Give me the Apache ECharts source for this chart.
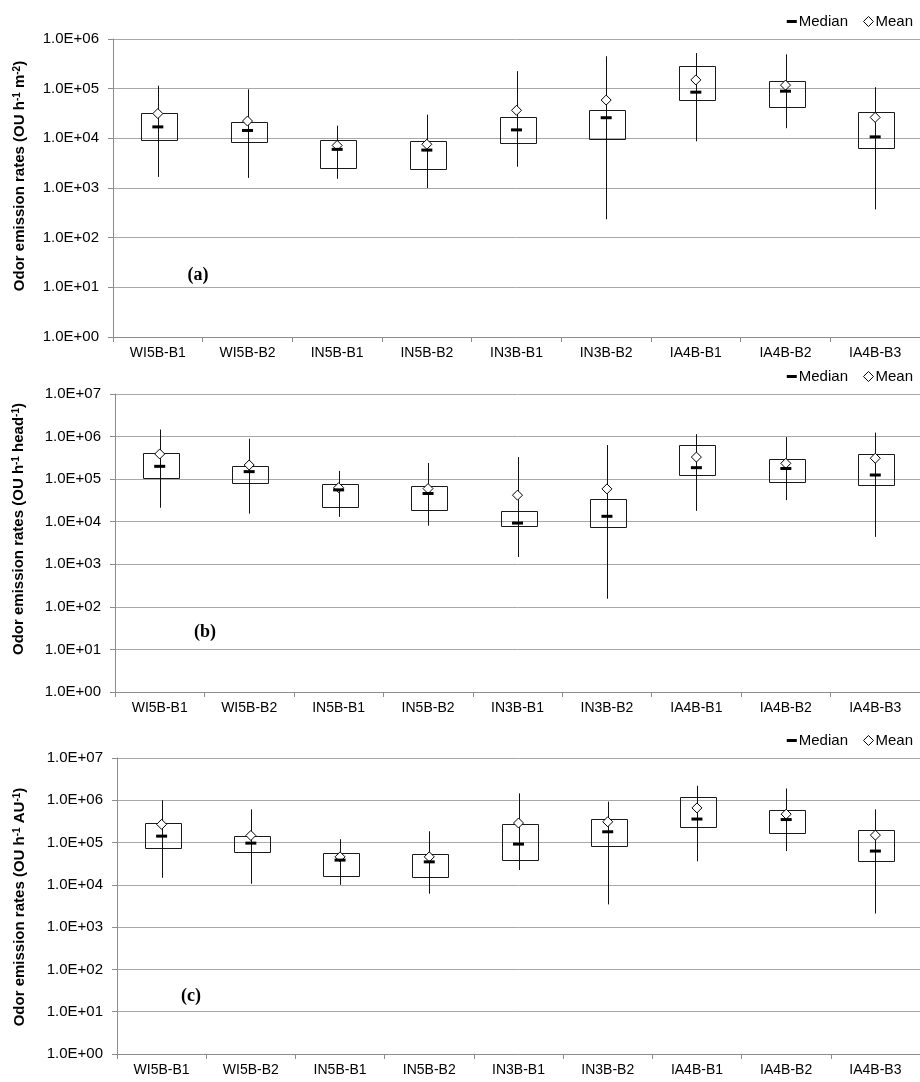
<!DOCTYPE html>
<html>
<head>
<meta charset="utf-8">
<script src="https://cdn.jsdelivr.net/npm/echarts@6/dist/echarts.min.js"></script>
<style>
html,body{margin:0;padding:0;background:#fff;}
#chart{width:920px;height:1082px;}
</style>
</head>
<body>
<div id="chart"></div>
<script>
const categories = ['WI5B-B1','WI5B-B2','IN5B-B1','IN5B-B2','IN3B-B1','IN3B-B2','IA4B-B1','IA4B-B2','IA4B-B3'];

// Panel (a): OU h-1 m-2
const aMax    = [1.15e5, 9.7e4, 1.8e4, 3.0e4, 2.25e5, 4.5e5, 5.2e5, 4.9e5, 1.07e5];
const aQ3     = [3.2e4, 2.18e4, 9.1e3, 9.0e3, 2.7e4, 3.8e4, 2.8e5, 1.45e5, 3.45e4];
const aMedian = [1.7e4, 1.44e4, 6.0e3, 5.8e3, 1.48e4, 2.6e4, 8.5e4, 8.9e4, 1.07e4];
const aQ1     = [9.1e3, 8.7e3, 2.46e3, 2.46e3, 8.1e3, 1.0e4, 5.7e4, 4.35e4, 6.6e3];
const aMin    = [1.67e3, 1.6e3, 1.53e3, 1.0e3, 2.68e3, 2.35e2, 8.7e3, 1.6e4, 3.7e2];
const aMean   = [3.15e4, 2.23e4, 7.2e3, 7.6e3, 3.67e4, 5.9e4, 1.5e5, 1.18e5, 2.64e4];

// Panel (b): OU h-1 head-1
const bMax    = [1.46e6, 8.9e5, 1.56e5, 2.4e5, 3.3e5, 6.3e5, 1.14e6, 9.7e5, 1.24e6];
const bQ3     = [4.15e5, 2.08e5, 7.6e4, 7.0e4, 1.8e4, 3.38e4, 6.2e5, 3.0e5, 4.0e5];
const bMedian = [2.0e5, 1.5e5, 5.6e4, 4.6e4, 9.3e3, 1.34e4, 1.86e5, 1.78e5, 1.25e5];
const bQ1     = [1.09e5, 8.3e4, 2.18e4, 1.95e4, 7.8e3, 7.4e3, 1.2e5, 8.5e4, 7.6e4];
const bMin    = [2.13e4, 1.55e4, 1.3e4, 8.1e3, 1.48e3, 1.55e2, 1.8e4, 3.2e4, 4.4e3];
const bMean   = [3.9e5, 2.15e5, 6.3e4, 6.0e4, 4.2e4, 5.9e4, 3.3e5, 2.35e5, 3.1e5];

// Panel (c): OU h-1 AU-1
const cMax    = [1.0e6, 6.1e5, 1.2e5, 1.85e5, 1.46e6, 9.3e5, 2.2e6, 1.9e6, 6.1e5];
const cQ3     = [2.9e5, 1.42e5, 5.7e4, 5.35e4, 2.76e5, 3.7e5, 1.2e6, 5.9e5, 2.0e5];
const cMedian = [1.42e5, 9.7e4, 3.85e4, 3.5e4, 9.2e4, 1.8e5, 3.6e5, 3.5e5, 6.3e4];
const cQ1     = [7.5e4, 5.8e4, 1.67e4, 1.5e4, 3.9e4, 8.5e4, 2.4e5, 1.66e5, 3.6e4];
const cMin    = [1.47e4, 1.06e4, 1.0e4, 6.2e3, 2.24e4, 3.45e3, 3.6e4, 6.3e4, 2.1e3];
const cMean   = [2.7e5, 1.47e5, 4.6e4, 4.6e4, 2.9e5, 3.1e5, 6.6e5, 4.7e5, 1.5e5];

const panelLetters = ['(a)', '(b)', '(c)'];
const yMaxValues = [1e6, 1e7, 1e7];
const legendNames = ['Median', 'Mean'];

const panels = [
  {min:aMin, q1:aQ1, med:aMedian, q3:aQ3, max:aMax, mean:aMean},
  {min:bMin, q1:bQ1, med:bMedian, q3:bQ3, max:bMax, mean:bMean},
  {min:cMin, q1:cQ1, med:cMedian, q3:cQ3, max:cMax, mean:cMean}
];

const FONT = "'Liberation Sans', Arial, sans-serif";
const gridLayout = [
  {left:113, top:39, height:298, right:-5},
  {left:115, top:394, height:298, right:-4},
  {left:117, top:758, height:296, right:-4}
];

function expLabel(v){
  const e = Math.round(Math.log10(v));
  return '1.0E+' + String(e).padStart(2,'0');
}

function renderBox(params, api){
  const x = api.value(0);
  const pMin = api.coord([x, api.value(1)]);
  const pQ1 = api.coord([x, api.value(2)]);
  const pQ3 = api.coord([x, api.value(3)]);
  const pMax = api.coord([x, api.value(4)]);
  const w = params.coordSys.width / categories.length * 0.4;
  const cx = Math.round(pQ1[0]) + 0.5;
  return {
    type:'group',
    children:[
      {type:'rect', shape:{x:Math.round(cx - w/2)+0.5, y:Math.round(pQ3[1])+0.5, width:Math.round(w), height:Math.round(pQ1[1]-pQ3[1])},
       style:{fill:'none', stroke:'#1a1a1a', lineWidth:1}},
      {type:'line', shape:{x1:cx, y1:pMin[1], x2:cx, y2:pMax[1]},
       style:{stroke:'#111', lineWidth:1}}
    ]
  };
}

const grids = [], xAxes = [], yAxes = [], series = [], legends = [], graphics = [];
const legendTops = [9, 364, 728];
const titleRich = {
  t:{fontFamily:FONT, fontWeight:'bold', fontSize:15, color:'#000'},
  s:{fontFamily:FONT, fontWeight:'bold', fontSize:10, color:'#000', verticalAlign:'top', padding:[0,0,6,0]}
};
const titleTexts = [
  '{t|Odor emission rates (OU h}{s|-1}{t| m}{s|-2}{t|)}',
  '{t|Odor emission rates (OU h}{s|-1}{t| head}{s|-1}{t|)}',
  '{t|Odor emission rates (OU h}{s|-1}{t| AU}{s|-1}{t|)}'
];
const titlePos = [[20,176],[19,529],[20,907]];
const letterPos = [[198,275],[205,632],[191,996]];

panels.forEach((p, k) => {
  grids.push(Object.assign({containLabel:false}, gridLayout[k]));
  xAxes.push({
    type:'category', gridIndex:k, data:categories, boundaryGap:true,
    axisLine:{show:true, lineStyle:{color:'#8c8c8c', width:1}},
    axisTick:{show:true, length:5, interval:0, lineStyle:{color:'#8c8c8c'}},
    axisLabel:{show:true, interval:0, color:'#000', fontFamily:FONT, fontSize:14, margin:9},
    splitLine:{show:false}
  });
  yAxes.push({
    type:'log', logBase:10, gridIndex:k, min:1, max:yMaxValues[k],
    splitNumber: Math.round(Math.log10(yMaxValues[k])),
    axisLine:{show:true, lineStyle:{color:'#8c8c8c', width:1}},
    axisTick:{show:true, length:5, lineStyle:{color:'#8c8c8c'}},
    axisLabel:{color:'#000', fontFamily:FONT, fontSize:15, margin:14, formatter:expLabel},
    splitLine:{show:true, lineStyle:{color:'#a8a8a8', width:1}},
    minorTick:{show:false}, minorSplitLine:{show:false}
  });
  series.push({
    type:'custom', name:'Range', xAxisIndex:k, yAxisIndex:k,
    renderItem: renderBox,
    encode:{x:0, y:[1,2,3,4]},
    data: categories.map((c,i)=>[i, p.min[i], p.q1[i], p.q3[i], p.max[i]]),
    z:2, silent:true
  });
  series.push({
    type:'scatter', name:'Mean', xAxisIndex:k, yAxisIndex:k,
    data:p.mean, symbol:'diamond', symbolSize:[10,10],
    itemStyle:{color:'#fff', borderColor:'#000', borderWidth:1, opacity:1},
    z:3, silent:true
  });
  series.push({
    type:'scatter', name:'Median', xAxisIndex:k, yAxisIndex:k,
    data:p.med, symbol:'rect', symbolSize:[11,3],
    itemStyle:{color:'#000', opacity:1},
    z:4, silent:true
  });
  legends.push({
    right:2, top:legendTops[k], orient:'horizontal', itemGap:15,
    itemWidth:10, itemHeight:10,
    selectedMode:false,
    textStyle:{fontFamily:FONT, fontSize:15, color:'#000', padding:[0,0,0,-3]},
    data:[
      {name:legendNames[0], icon:'path://M0,0M10,10M0,3.5L10,3.5L10,6.5L0,6.5Z', itemStyle:{color:'#000', borderWidth:0}},
      {name:legendNames[1], icon:'diamond', itemStyle:{color:'#fff', borderColor:'#000', borderWidth:1}}
    ]
  });
  graphics.push({
    type:'text', x:titlePos[k][0], y:titlePos[k][1], rotation:Math.PI/2,
    style:{text:titleTexts[k], rich:titleRich, align:'center', verticalAlign:'middle'}
  });
  graphics.push({
    type:'text', x:letterPos[k][0], y:letterPos[k][1],
    style:{text:panelLetters[k], fontFamily:"'Liberation Serif', 'Times New Roman', serif", fontWeight:'bold', fontSize:18, fill:'#000', align:'center', verticalAlign:'middle'}
  });
});

const chart = echarts.init(document.getElementById('chart'), null, {renderer:'canvas'});
chart.setOption({
  animation:false,
  backgroundColor:'#fff',
  grid:grids, xAxis:xAxes, yAxis:yAxes, series:series, legend:legends, graphic:graphics
});
</script>
</body>
</html>
